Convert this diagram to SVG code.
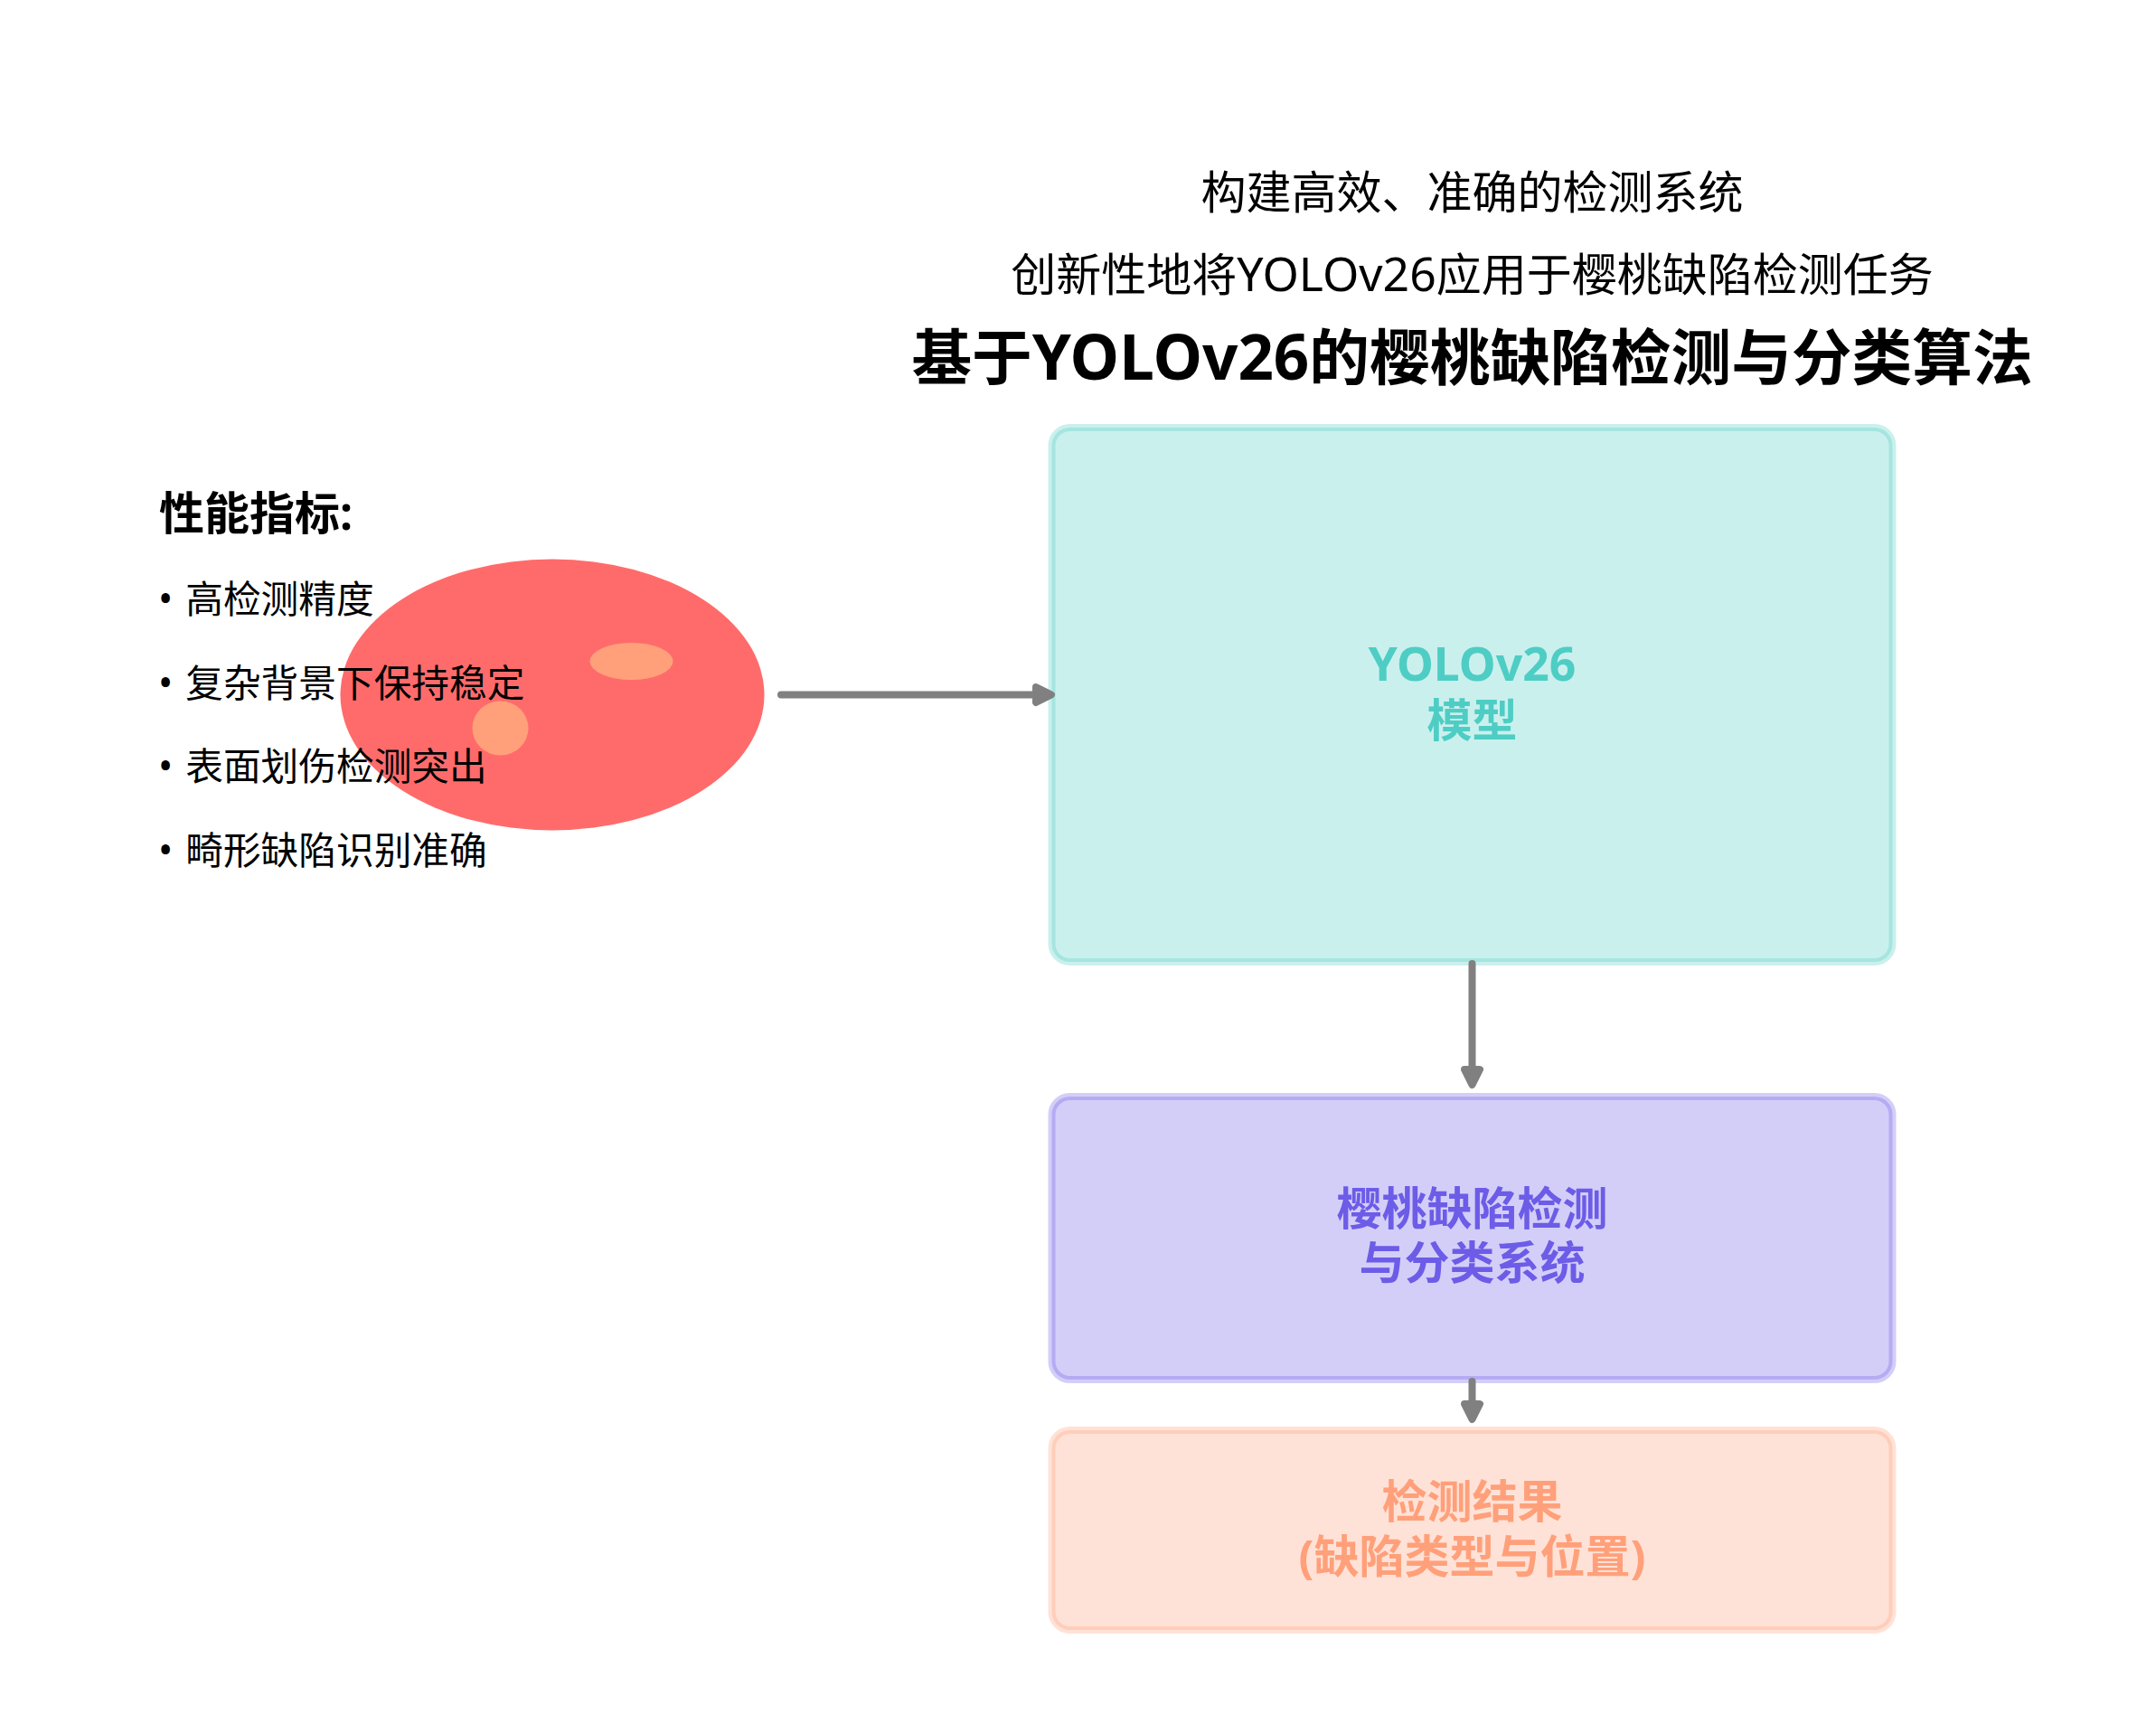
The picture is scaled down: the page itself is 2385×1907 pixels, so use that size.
<svg xmlns="http://www.w3.org/2000/svg" width="2385" height="1907" viewBox="0 0 2385 1907">
<style>
text{font-family:"Noto Sans","Noto Sans CJK SC",sans-serif}
.lat{font-size:1.035em}
.sub{font-size:50px;text-anchor:middle;fill:#000}
.title{font-size:66.7px;font-weight:700;text-anchor:middle;fill:#000}
.head{font-size:50px;font-weight:700;fill:#000}
.item{font-size:41.7px;fill:#000}
.label{font-size:50px;font-weight:700;text-anchor:middle}
.box{stroke-width:8;fill-opacity:.3;stroke-opacity:.3}
.edge{stroke:#808080;stroke-width:8;stroke-linecap:round;stroke-linejoin:round;fill:none}
.tip{fill:#808080;stroke:#808080;stroke-width:8;stroke-linejoin:round}
</style>
<rect width="2385" height="1907" fill="#fff"/>
<g id="titles">
<text class="sub" x="1628.5" y="231">构建高效、准确的检测系统</text>
<text class="sub" x="1628.5" y="322">创新性地将<tspan class="lat">YOLOv26</tspan>应用于樱桃缺陷检测任务</text>
<text class="title" x="1628.5" y="420">基于<tspan class="lat">YOLOv26</tspan>的樱桃缺陷检测与分类算法</text>
</g>
<g id="cherry">
<ellipse cx="611" cy="768.5" rx="234.5" ry="150" fill="#FF6B6B"/>
<ellipse cx="698.5" cy="731.5" rx="46" ry="20.5" fill="#FFA07A"/>
<ellipse cx="553.5" cy="805.5" rx="31" ry="30" fill="#FFA07A"/>
</g>
<g id="metrics">
<text class="head" x="176" y="586">性能指标:</text>
<text class="item" x="175" y="678"><tspan class="lat">•</tspan><tspan dx="14">高检测精度</tspan></text>
<text class="item" x="175" y="771"><tspan class="lat">•</tspan><tspan dx="14">复杂背景下保持稳定</tspan></text>
<text class="item" x="175" y="863"><tspan class="lat">•</tspan><tspan dx="14">表面划伤检测突出</tspan></text>
<text class="item" x="175" y="956"><tspan class="lat">•</tspan><tspan dx="14">畸形缺陷识别准确</tspan></text>
</g>
<g id="node-yolo">
<rect class="box" x="1163.5" y="473" width="930" height="591" rx="20" fill="#4ECDC4" stroke="#4ECDC4"/>
<text class="label" x="1628.5" y="752.5" fill="#4ECDC4"><tspan class="lat">YOLOv26</tspan></text>
<text class="label" x="1628.5" y="815" fill="#4ECDC4">模型</text>
</g>
<g id="node-system">
<rect class="box" x="1163.5" y="1213" width="930" height="313" rx="20" fill="#6C5CE7" stroke="#6C5CE7"/>
<text class="label" x="1628.5" y="1355" fill="#6C5CE7">樱桃缺陷检测</text>
<text class="label" x="1628.5" y="1415" fill="#6C5CE7">与分类系统</text>
</g>
<g id="node-result">
<rect class="box" x="1163.5" y="1582" width="930" height="221" rx="20" fill="#FFA07A" stroke="#FFA07A"/>
<text class="label" x="1628.5" y="1679" fill="#FFA07A">检测结果</text>
<text class="label" x="1628.5" y="1740" fill="#FFA07A">(缺陷类型与位置)</text>
</g>
<g id="connectors">
<path class="edge" d="M864 768.5H1155"/><path class="tip" d="M1146 760L1163 768.5L1146 777Z"/>
<path class="edge" d="M1628.5 1066V1190"/><path class="tip" d="M1620 1183L1628.5 1200L1637 1183Z"/>
<path class="edge" d="M1628.5 1528V1560"/><path class="tip" d="M1620 1553L1628.5 1570L1637 1553Z"/>
</g>
</svg>
